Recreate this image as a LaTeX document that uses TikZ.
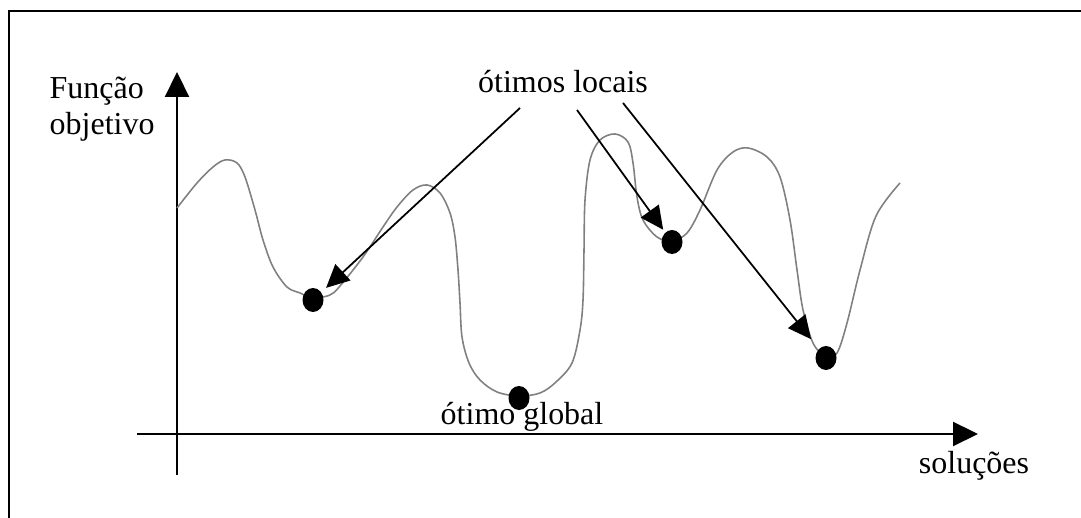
\documentclass[tikz,border=0pt]{standalone}
\usepackage{fontspec}
\setmainfont{Liberation Serif}
\usetikzlibrary{arrows.meta,shapes.geometric}

\begin{document}
\begin{tikzpicture}[
  every node/.style={font=\fontsize{9.1pt}{10.4pt}\selectfont, inner sep=0pt},
  axis/.style={line width=0.6pt, -{Triangle[length=2.5mm, width=2.4mm]}},
  curve/.style={gray, line width=0.45pt},
  pointer/.style={line width=0.5pt, -{Triangle[length=2.3mm, width=2.2mm]}},
  dot/.style={ellipse, fill=black, minimum width=2.1mm, minimum height=2.4mm}
]
\useasboundingbox (0,0) rectangle (10.81,5.18);
% moldura
\draw[line width=0.8pt] (0.09,0) -- (0.09,5.07) -- (10.81,5.07);
% eixos
\coordinate (ybot) at (1.77,0.43);
\coordinate (ytop) at (1.77,4.46);
\coordinate (xleft) at (1.37,0.84);
\coordinate (xright) at (9.78,0.84);
\draw[axis] (ybot) -- (ytop);
\draw[axis] (xleft) -- (xright);
% funcao objetivo
\draw[curve] plot[smooth, tension=0.55] coordinates {
  (1.77,3.10) (1.97,3.35) (2.13,3.51) (2.25,3.58) (2.37,3.55) (2.45,3.41)
  (2.55,3.08) (2.63,2.78) (2.73,2.51) (2.87,2.31) (3.00,2.25) (3.13,2.20)
  (3.30,2.23) (3.40,2.32) (3.63,2.61) (3.83,2.91) (3.97,3.11) (4.13,3.28)
  (4.27,3.33) (4.40,3.25) (4.50,3.05) (4.55,2.81) (4.58,2.48) (4.60,2.15)
  (4.62,1.81) (4.69,1.55) (4.80,1.38) (4.97,1.26) (5.19,1.22) (5.40,1.25)
  (5.56,1.36) (5.72,1.55) (5.80,1.88) (5.83,2.18) (5.84,2.68) (5.85,3.18)
  (5.90,3.58) (6.00,3.78) (6.15,3.84) (6.28,3.76) (6.33,3.55) (6.37,3.21)
  (6.43,2.98) (6.57,2.81) (6.72,2.77) (6.87,2.85) (7.00,3.08) (7.17,3.48)
  (7.33,3.66) (7.48,3.70) (7.67,3.61) (7.80,3.41) (7.90,2.98) (7.97,2.48)
  (8.03,2.08) (8.13,1.75) (8.26,1.61) (8.37,1.65) (8.47,1.95) (8.60,2.48)
  (8.76,3.02) (9.00,3.35)};
% otimos
\node[dot] (loc1) at (3.13,2.18) {};
\node[dot] (loc2) at (6.72,2.76) {};
\node[dot] (loc3) at (8.26,1.60) {};
\node[dot] (glob) at (5.19,1.20) {};
% textos
\node[align=left, anchor=west] (fobj) at (0.49,4.09) {Função\\objetivo};
\node[anchor=base] (locais) at (5.63,4.25) {ótimos locais};
\node[anchor=base] (global) at (5.22,0.93) {ótimo global};
\node[anchor=base] (solucoes) at (9.74,0.44) {soluções};
% setas
\coordinate (s1) at (5.20,4.10);
\coordinate (s2) at (5.77,4.08);
\coordinate (s3) at (6.23,4.15);
\draw[pointer, shorten >=0.6mm] (s1) -- (loc1);
\draw[pointer, shorten >=0.3mm] (s2) -- (loc2);
\draw[pointer, shorten >=1.2mm] (s3) -- (loc3);
\end{tikzpicture}
\end{document}
